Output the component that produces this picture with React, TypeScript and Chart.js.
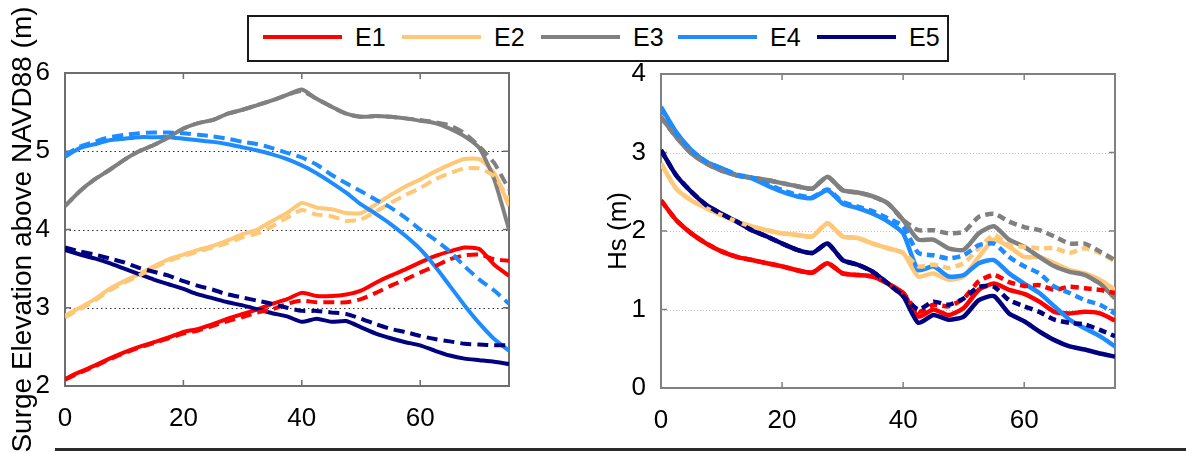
import React, { useEffect, useRef } from "react";
import { Chart, registerables } from "chart.js";

Chart.register(...registerables);

// Distance along transect (km)
const DIST = [0, 2.5, 5, 7.5, 10, 12.5, 15, 17.5, 20, 22.5, 25, 27.5, 30, 32.5, 35, 37.5, 40, 42.5, 45, 47.5, 50, 52.5, 55, 57.5, 60, 62.5, 65, 67.5, 70, 72.5, 75];

const SERIES = ["E1", "E2", "E3", "E4", "E5"];
const COLORS = ["#ff0000", "#ffc878", "#808080", "#1e8cff", "#000080"];

const X_TICKS = [0, 20, 40, 60];
const SURGE_TICKS = [2, 3, 4, 5, 6];
const HS_TICKS = [0, 1, 2, 3, 4];

// Left panel: surge elevation (m), solid and dashed
const E1_SURGE = [2.09, 2.18, 2.26, 2.35, 2.43, 2.50, 2.56, 2.62, 2.69, 2.73, 2.79, 2.86, 2.92, 2.98, 3.05, 3.11, 3.19, 3.15, 3.15, 3.17, 3.22, 3.32, 3.41, 3.49, 3.58, 3.66, 3.72, 3.77, 3.75, 3.55, 3.41];
const E1_SURGE_D = [2.08, 2.17, 2.25, 2.34, 2.42, 2.49, 2.55, 2.61, 2.67, 2.71, 2.77, 2.83, 2.88, 2.94, 2.98, 3.05, 3.09, 3.07, 3.07, 3.07, 3.11, 3.19, 3.28, 3.36, 3.45, 3.53, 3.62, 3.67, 3.68, 3.62, 3.60];
const E2_SURGE = [2.90, 3.00, 3.11, 3.24, 3.34, 3.43, 3.53, 3.62, 3.68, 3.74, 3.79, 3.86, 3.94, 4.00, 4.11, 4.21, 4.34, 4.28, 4.26, 4.21, 4.21, 4.32, 4.44, 4.55, 4.64, 4.74, 4.83, 4.90, 4.90, 4.72, 4.30];
const E2_SURGE_D = [2.88, 2.98, 3.09, 3.22, 3.32, 3.41, 3.51, 3.60, 3.66, 3.72, 3.77, 3.83, 3.90, 3.95, 4.04, 4.15, 4.25, 4.19, 4.17, 4.11, 4.13, 4.23, 4.34, 4.44, 4.53, 4.64, 4.72, 4.78, 4.78, 4.68, 4.38];
const E3_SURGE = [4.30, 4.49, 4.64, 4.76, 4.89, 5.00, 5.08, 5.18, 5.29, 5.36, 5.40, 5.48, 5.53, 5.59, 5.65, 5.72, 5.79, 5.67, 5.57, 5.48, 5.44, 5.45, 5.44, 5.42, 5.39, 5.36, 5.29, 5.19, 5.04, 4.64, 4.00];
const E3_SURGE_D = [4.30, 4.49, 4.64, 4.76, 4.89, 5.00, 5.08, 5.18, 5.29, 5.36, 5.40, 5.48, 5.53, 5.59, 5.65, 5.72, 5.77, 5.67, 5.57, 5.48, 5.44, 5.45, 5.44, 5.42, 5.40, 5.37, 5.33, 5.23, 5.06, 4.85, 4.51];
const E4_SURGE = [4.93, 5.04, 5.09, 5.14, 5.16, 5.18, 5.18, 5.18, 5.16, 5.14, 5.12, 5.09, 5.05, 5.01, 4.96, 4.90, 4.82, 4.72, 4.60, 4.47, 4.32, 4.20, 4.07, 3.92, 3.75, 3.53, 3.28, 3.03, 2.80, 2.60, 2.45];
const E4_SURGE_D = [4.95, 5.06, 5.12, 5.18, 5.21, 5.23, 5.24, 5.24, 5.23, 5.21, 5.19, 5.16, 5.12, 5.09, 5.04, 4.98, 4.92, 4.83, 4.70, 4.59, 4.49, 4.38, 4.28, 4.15, 4.00, 3.87, 3.72, 3.53, 3.36, 3.22, 3.05];
const E5_SURGE = [3.74, 3.68, 3.63, 3.57, 3.50, 3.43, 3.36, 3.30, 3.24, 3.17, 3.12, 3.07, 3.03, 2.98, 2.93, 2.89, 2.82, 2.86, 2.82, 2.83, 2.75, 2.67, 2.61, 2.56, 2.52, 2.45, 2.39, 2.35, 2.33, 2.31, 2.28];
const E5_SURGE_D = [3.77, 3.72, 3.68, 3.63, 3.58, 3.51, 3.46, 3.41, 3.34, 3.28, 3.23, 3.17, 3.13, 3.09, 3.05, 3.00, 2.96, 2.96, 2.94, 2.92, 2.86, 2.79, 2.73, 2.69, 2.64, 2.60, 2.57, 2.54, 2.53, 2.52, 2.52];

// Right panel: significant wave height Hs (m), solid and dashed
const E1_HS = [2.39, 2.14, 1.97, 1.84, 1.74, 1.67, 1.63, 1.59, 1.55, 1.50, 1.47, 1.59, 1.46, 1.44, 1.42, 1.33, 1.21, 0.91, 1.00, 0.93, 1.02, 1.25, 1.33, 1.25, 1.20, 1.10, 0.97, 0.95, 0.97, 0.95, 0.86];
const E1_HS_D = [2.39, 2.14, 1.97, 1.84, 1.74, 1.67, 1.63, 1.59, 1.55, 1.50, 1.47, 1.59, 1.46, 1.44, 1.42, 1.33, 1.21, 0.97, 1.06, 1.04, 1.14, 1.36, 1.44, 1.35, 1.30, 1.31, 1.25, 1.29, 1.27, 1.25, 1.21];
const E2_HS = [2.86, 2.54, 2.39, 2.29, 2.20, 2.12, 2.06, 2.01, 1.97, 1.95, 1.93, 2.10, 1.93, 1.91, 1.84, 1.78, 1.72, 1.42, 1.46, 1.38, 1.42, 1.67, 1.89, 1.80, 1.67, 1.67, 1.59, 1.50, 1.46, 1.38, 1.25];
const E2_HS_D = [2.86, 2.54, 2.39, 2.29, 2.20, 2.12, 2.06, 2.01, 1.97, 1.95, 1.93, 2.10, 1.93, 1.91, 1.84, 1.78, 1.72, 1.55, 1.57, 1.53, 1.59, 1.78, 1.95, 1.82, 1.80, 1.78, 1.78, 1.72, 1.78, 1.72, 1.61];
const E3_HS = [3.45, 3.20, 2.99, 2.86, 2.77, 2.71, 2.68, 2.65, 2.61, 2.57, 2.54, 2.69, 2.52, 2.49, 2.44, 2.35, 2.14, 1.89, 1.89, 1.78, 1.76, 1.97, 2.06, 1.89, 1.80, 1.67, 1.55, 1.48, 1.44, 1.33, 1.14];
const E3_HS_D = [3.45, 3.20, 2.99, 2.86, 2.77, 2.71, 2.68, 2.65, 2.61, 2.57, 2.54, 2.69, 2.52, 2.49, 2.44, 2.35, 2.14, 2.01, 2.01, 1.97, 1.99, 2.18, 2.22, 2.12, 2.05, 2.01, 1.93, 1.84, 1.84, 1.74, 1.63];
const E4_HS = [3.58, 3.26, 3.03, 2.88, 2.80, 2.71, 2.67, 2.58, 2.50, 2.44, 2.42, 2.52, 2.35, 2.29, 2.22, 2.12, 1.97, 1.50, 1.55, 1.42, 1.44, 1.59, 1.63, 1.46, 1.33, 1.21, 1.04, 0.87, 0.76, 0.66, 0.53];
const E4_HS_D = [3.56, 3.25, 3.03, 2.88, 2.80, 2.72, 2.68, 2.60, 2.52, 2.46, 2.43, 2.53, 2.37, 2.31, 2.25, 2.16, 2.06, 1.72, 1.69, 1.65, 1.69, 1.82, 1.84, 1.67, 1.55, 1.46, 1.29, 1.21, 1.12, 1.06, 0.95];
const E5_HS = [3.03, 2.71, 2.50, 2.33, 2.22, 2.12, 2.01, 1.93, 1.84, 1.76, 1.72, 1.84, 1.63, 1.57, 1.48, 1.33, 1.17, 0.83, 0.93, 0.87, 0.91, 1.12, 1.17, 0.95, 0.85, 0.72, 0.61, 0.53, 0.49, 0.44, 0.40];
const E5_HS_D = [3.03, 2.71, 2.50, 2.33, 2.22, 2.12, 2.01, 1.93, 1.84, 1.76, 1.72, 1.84, 1.63, 1.57, 1.48, 1.33, 1.17, 1.00, 1.10, 1.06, 1.14, 1.29, 1.29, 1.12, 1.04, 0.97, 0.87, 0.83, 0.81, 0.74, 0.66];

const SURGE_SOLID = [E1_SURGE, E2_SURGE, E3_SURGE, E4_SURGE, E5_SURGE];
const SURGE_DASHED = [E1_SURGE_D, E2_SURGE_D, E3_SURGE_D, E4_SURGE_D, E5_SURGE_D];
const HS_SOLID = [E1_HS, E2_HS, E3_HS, E4_HS, E5_HS];
const HS_DASHED = [E1_HS_D, E2_HS_D, E3_HS_D, E4_HS_D, E5_HS_D];

const FONT = "'Liberation Sans', Arial, Helvetica, sans-serif";

function buildDatasets(solid: number[][], dashed: number[][], lw: number, dash: number[]) {
  const ds: any[] = [];
  solid.forEach((vals, i) => {
    ds.push({
      label: SERIES[i],
      data: vals.map((v, k) => ({ x: DIST[k], y: v })),
      borderColor: COLORS[i],
      backgroundColor: COLORS[i],
      borderWidth: lw,
      pointRadius: 0,
      tension: 0.2,
      order: 20 - i,
    });
  });
  dashed.forEach((vals, i) => {
    ds.push({
      label: SERIES[i] + " (dashed)",
      data: vals.map((v, k) => ({ x: DIST[k], y: v })),
      borderColor: COLORS[i],
      backgroundColor: COLORS[i],
      borderWidth: lw,
      borderDash: dash,
      pointRadius: 0,
      tension: 0.2,
      order: 10 - i,
    });
  });
  return ds;
}

const framePlugin = {
  id: "frame",
  beforeDatasetsDraw(chart: any, _args: any, opts: any) {
    const { ctx, chartArea } = chart;
    const { left, right, top, bottom } = chartArea;
    const xs = chart.scales.x;
    const ys = chart.scales.y;
    ctx.save();
    ctx.strokeStyle = opts.gridColor;
    ctx.lineWidth = opts.gridWidth;
    ctx.setLineDash(opts.gridDash);
    for (const v of opts.gridValues) {
      const py = Math.round(ys.getPixelForValue(v)) + 0.5;
      ctx.beginPath();
      ctx.moveTo(left, py);
      ctx.lineTo(right, py);
      ctx.stroke();
    }
    ctx.setLineDash([]);
    ctx.strokeStyle = opts.color;
    ctx.lineWidth = 1.5;
    const len = 6;
    for (const v of opts.xTicks) {
      const px = xs.getPixelForValue(v);
      ctx.beginPath();
      ctx.moveTo(px, top);
      ctx.lineTo(px, top + len);
      ctx.moveTo(px, bottom);
      ctx.lineTo(px, bottom - len);
      ctx.stroke();
    }
    for (const v of opts.yTicks) {
      const py = ys.getPixelForValue(v);
      ctx.beginPath();
      ctx.moveTo(left, py);
      ctx.lineTo(left + len, py);
      ctx.moveTo(right, py);
      ctx.lineTo(right - len, py);
      ctx.stroke();
    }
    ctx.lineWidth = opts.width;
    ctx.strokeRect(left, top, right - left, bottom - top);
    ctx.restore();
  },
};

type PanelProps = {
  left: number;
  width: number;
  area: { left: number; right: number; top: number; bottom: number };
  solid: number[][];
  dashed: number[][];
  yMin: number;
  yMax: number;
  yTicks: number[];
  grid: number[];
  title: string;
  titleSize: number;
  titlePad: number;
  lw: number;
  dash: number[];
  gridColor: string;
  gridDash: number[];
  frameColor: string;
};

function Panel(p: PanelProps) {
  const ref = useRef<HTMLCanvasElement | null>(null);
  useEffect(() => {
    if (!ref.current) return;
    const H = 452;
    const chart = new Chart(ref.current, {
      type: "line",
      data: { datasets: buildDatasets(p.solid, p.dashed, p.lw, p.dash) },
      options: {
        responsive: false,
        animation: false,
        devicePixelRatio: 1,
        layout: {
          padding: { left: 0, top: p.area.top, right: p.width - p.area.right, bottom: 0 },
        },
        plugins: {
          legend: { display: false },
          tooltip: { enabled: false },
          frame: {
            color: p.frameColor,
            width: 2,
            gridColor: p.gridColor,
            gridDash: p.gridDash,
            gridWidth: 1.2,
            gridValues: p.grid,
            xTicks: X_TICKS,
            yTicks: p.yTicks,
          },
        } as any,
        scales: {
          x: {
            type: "linear",
            min: 0,
            max: 75,
            grid: { display: false },
            border: { display: false },
            afterBuildTicks: (s: any) => {
              s.ticks = X_TICKS.map((v) => ({ value: v }));
            },
            afterFit: (s: any) => {
              s.height = H - p.area.bottom;
            },
            ticks: {
              padding: 9,
              color: "#000",
              font: { family: FONT, size: 26 },
              maxRotation: 0,
              callback: (v: any) => String(v),
            },
          },
          y: {
            type: "linear",
            min: p.yMin,
            max: p.yMax,
            grid: { display: false },
            border: { display: false },
            afterBuildTicks: (s: any) => {
              s.ticks = p.yTicks.map((v) => ({ value: v }));
            },
            afterFit: (s: any) => {
              s.width = p.area.left;
            },
            ticks: {
              padding: 7,
              color: "#000",
              font: { family: FONT, size: 26 },
              callback: (v: any) => String(v),
            },
            title: {
              display: true,
              text: p.title,
              color: "#000",
              font: { family: FONT, size: p.titleSize, weight: "normal" },
              padding: { top: p.titlePad, bottom: 0 },
            },
          },
        },
      },
      plugins: [framePlugin],
    });
    return () => chart.destroy();
  }, []);
  return (
    <canvas
      ref={ref}
      width={p.width}
      height={452}
      style={{ position: "absolute", left: p.left, top: 0, width: p.width, height: 452 }}
    />
  );
}

const LEGEND_LINE_X = [263, 402, 541, 678, 817];
const LEGEND_TEXT_X = [355, 494, 633, 770, 909];

export default function App() {
  return (
    <div style={{ position: "absolute", left: 0, top: 0, width: 1186, height: 452, background: "#fff", overflow: "hidden" }}>
      <Panel
        left={0}
        width={560}
        area={{ left: 65, right: 509, top: 73, bottom: 386 }}
        solid={SURGE_SOLID}
        dashed={SURGE_DASHED}
        yMin={2}
        yMax={6}
        yTicks={SURGE_TICKS}
        grid={[3, 4, 5]}
        title="Surge Elevation above NAVD88 (m)"
        titleSize={28}
        titlePad={6}
        lw={4}
        dash={[11, 6]}
        gridColor="#333333"
        gridDash={[1.5, 3]}
        frameColor="#6e6e6e"
      />
      <Panel
        left={560}
        width={626}
        area={{ left: 101, right: 555, top: 74, bottom: 388 }}
        solid={HS_SOLID}
        dashed={HS_DASHED}
        yMin={0}
        yMax={4}
        yTicks={HS_TICKS}
        grid={[1, 2, 3]}
        title="Hs (m)"
        titleSize={26}
        titlePad={43}
        lw={4.5}
        dash={[8, 5]}
        gridColor="#c4c4c4"
        gridDash={[1, 2]}
        frameColor="#808080"
      />
      <div
        style={{
          position: "absolute",
          left: 247,
          top: 15,
          width: 702,
          height: 47,
          border: "2px solid #1a1a1a",
          boxSizing: "border-box",
          background: "#fff",
        }}
      />
      {SERIES.map((name, i) => (
        <React.Fragment key={name}>
          <div
            style={{
              position: "absolute",
              left: LEGEND_LINE_X[i],
              top: 35,
              width: 79,
              height: 4,
              background: COLORS[i],
            }}
          />
          <div
            style={{
              position: "absolute",
              left: LEGEND_TEXT_X[i],
              top: 22,
              height: 30,
              lineHeight: "30px",
              fontFamily: FONT,
              fontSize: 25,
              color: "#000",
            }}
          >
            {name}
          </div>
        </React.Fragment>
      ))}
      <div style={{ position: "absolute", left: 55, top: 448, width: 1131, height: 3, background: "#2a2a2a" }} />
    </div>
  );
}
